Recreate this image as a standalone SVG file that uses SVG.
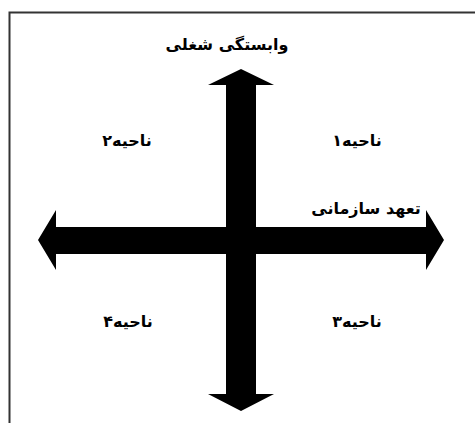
<svg xmlns="http://www.w3.org/2000/svg" width="475" height="423" viewBox="0 0 475 423">
<style>
.t{font-family:"DejaVu Sans","Noto Sans",sans-serif;font-size:16px;font-weight:bold;fill:#000;text-anchor:middle;direction:rtl}
.ar{fill:#000}
</style>
<rect width="475" height="423" fill="#fff"/>
<path d="M9.5,423 V12.5 H475" fill="none" stroke="#333" stroke-width="2"/>
<g id="connectors">
<polygon class="ar" points="241,69 274,85 256,85 256,394 274,394 241,411 208,394 226,394 226,85 208,85"/>
<polygon class="ar" points="38,240 56,210 56,227 426,227 426,210 444,240 426,270 426,254 56,254 56,270"/>
</g>
<g id="axis-y"><text class="t" x="227" y="50">وابستگی شغلی</text></g>
<g id="axis-x"><text class="t" x="366" y="214">تعهد سازمانی</text></g>
<g id="q1"><text class="t" x="357" y="146">ناحیه۱</text></g>
<g id="q2"><text class="t" x="127" y="146">ناحیه۲</text></g>
<g id="q3"><text class="t" x="357" y="327">ناحیه۳</text></g>
<g id="q4"><text class="t" x="128" y="327">ناحیه۴</text></g>
</svg>
